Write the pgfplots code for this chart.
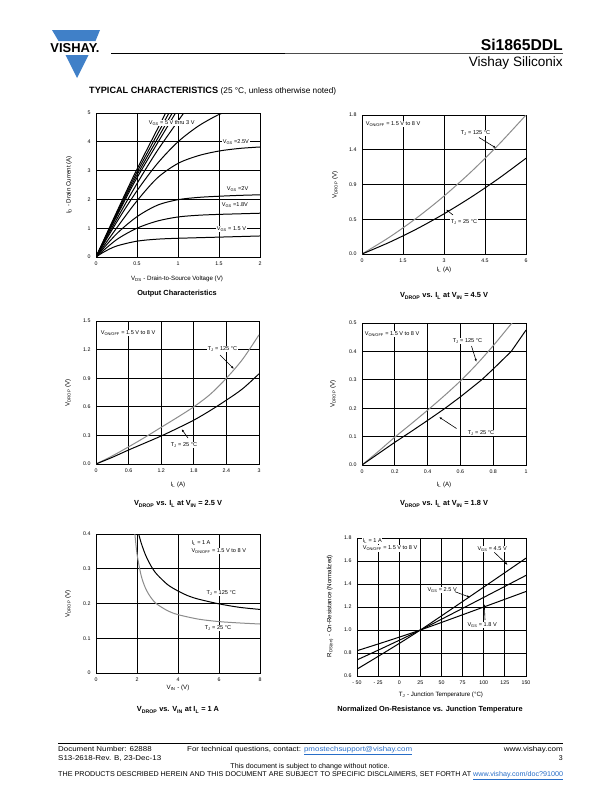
\documentclass[border=0pt]{standalone}
\usepackage{fontspec}
\setmainfont{Liberation Sans}
\usepackage{graphicx}
\usepackage{pgfplots}
\pgfplotsset{compat=1.18}
\usetikzlibrary{arrows.meta}
\definecolor{vblue}{RGB}{64,128,200}
\definecolor{lgray}{RGB}{140,140,140}
\definecolor{linkblue}{RGB}{40,110,200}
\newcommand{\tf}{\fontsize{5.3}{6}\selectfont}
\newcommand{\lf}{\fontsize{6.2}{7}\selectfont}
\newcommand{\af}{\fontsize{5.6}{6.5}\selectfont}
\newcommand{\ttl}{\fontsize{7.4}{8.5}\selectfont\bfseries}
\newcommand{\ff}{\fontsize{7}{8}\selectfont}
\pgfplotsset{
  ds/.style={scale only axis, anchor=south west, clip=true,
    axis line style={line width=1pt}, grid=major,
    major grid style={black,line width=0.8pt},
    tick style={draw=none}, ticklabel style={font=\tf},
    yticklabel style={xshift=-2bp}, xticklabel style={yshift=-1bp}},
  bk/.style={black, line width=1pt, smooth},
  gr/.style={lgray, line width=1pt, smooth},
}
\tikzset{ann/.style={font=\af, fill=white, inner sep=0.6bp, anchor=west},
  arr/.style={-{Latex[length=3bp,width=2.2bp]}, line width=0.6pt}}
\begin{document}
\begin{tikzpicture}
\fill[white] (0,0) rectangle (612bp,-792bp);
\path[use as bounding box] (0,0) rectangle (612bp,-792bp);
% ---------- header ----------
\fill[vblue] (52bp,-30bp) -- (100bp,-30bp) -- (95.5bp,-41bp) -- (58.5bp,-41bp) -- cycle;
\fill[vblue] (65.5bp,-55bp) -- (88.5bp,-55bp) -- (77bp,-78bp) -- cycle;
\node[inner sep=0] at (75bp,-48.5bp) {\resizebox{49bp}{!}{\bfseries VISHAY.}};
\draw[line width=1pt] (111bp,-53bp) -- (285bp,-53bp);
\draw[line width=0.8pt, black!70] (285bp,-53bp) -- (563bp,-53bp);
\node[anchor=base east, inner sep=0] at (563bp,-50bp) {\resizebox{82bp}{!}{\bfseries Si1865DDL}};
\node[anchor=base east, inner sep=0] at (563bp,-66bp) {\resizebox{94bp}{!}{Vishay Siliconix}};
\node[anchor=base west, inner sep=0] at (89bp,-93bp) {\resizebox{129bp}{!}{\bfseries TYPICAL CHARACTERISTICS}\hspace{2.5bp}\fontsize{8.3}{10}\selectfont(25 °C, unless otherwise noted)};
% ---------- plot 1: output characteristics ----------
\begin{axis}[ds, at={(96bp,-257bp)}, width=164bp, height=144bp,
  xmin=0, xmax=2, ymin=0, ymax=5,
  xtick={0,0.5,1,1.5,2}, xticklabels={0,0.5,1,1.5,2},
  ytick={0,1,2,3,4,5}, yticklabels={0,1,2,3,4,5}]
\addplot[bk] coordinates {(0,0)(0.25,1.55)(0.5,3.05)(0.85,5.0)};
\addplot[bk] coordinates {(0,0)(0.25,1.5)(0.5,2.95)(0.89,5.0)};
\addplot[bk] coordinates {(0,0)(0.25,1.45)(0.5,2.85)(0.93,5.0)};
\addplot[bk] coordinates {(0,0)(0.25,1.4)(0.5,2.75)(0.97,5.0)};
\addplot[bk] coordinates {(0,0)(0.25,1.3)(0.5,2.55)(0.75,3.7)(1.07,5.0)};
\addplot[bk] coordinates {(0,0)(0.25,1.2)(0.5,2.3)(0.75,3.25)(1,4.0)(1.25,4.55)(1.5,4.95)(1.58,5.0)};
\addplot[bk] coordinates {(0,0)(0.25,1.0)(0.5,1.95)(0.75,2.75)(1,3.25)(1.25,3.52)(1.5,3.68)(1.75,3.77)(2,3.82)};
\addplot[bk] coordinates {(0,0)(0.25,0.8)(0.5,1.4)(0.75,1.8)(1,1.99)(1.25,2.07)(1.5,2.11)(1.75,2.14)(2,2.16)};
\addplot[bk] coordinates {(0,0)(0.25,0.6)(0.5,1.0)(0.75,1.25)(1,1.39)(1.25,1.45)(1.5,1.48)(1.75,1.5)(2,1.52)};
\addplot[bk] coordinates {(0,0)(0.1,0.18)(0.25,0.38)(0.5,0.55)(0.75,0.62)(1,0.65)(1.5,0.69)(2,0.73)};
\end{axis}
\node[ann] at (148bp,-122.7bp) {V\textsubscript{GS} = 5 V thru 3 V};
\node[ann] at (222bp,-141.7bp) {V\textsubscript{GS} =2.5V};
\node[ann] at (226bp,-189.3bp) {V\textsubscript{GS} =2V};
\node[ann] at (221bp,-205.3bp) {V\textsubscript{GS} =1.8V};
\node[ann] at (216bp,-229.3bp) {V\textsubscript{GS} = 1.5 V};
\node[font=\lf] at (177bp,-279bp) {V\textsubscript{DS} - Drain-to-Source Voltage (V)};
\node[font=\lf, rotate=90] at (69bp,-185bp) {I\textsubscript{D} - Drain Current (A)};
\node[font=\ttl] at (177bp,-294bp) {Output Characteristics};
% ---------- plot 2: VDROP vs IL at VIN = 4.5 V ----------
\begin{axis}[ds, at={(362bp,-254bp)}, width=164bp, height=139bp,
  xmin=0, xmax=6, ymin=0, ymax=1.8,
  xtick={0,1.5,3,4.5,6}, xticklabels={0,1.5,3,4.5,6},
  ytick={0,0.45,0.9,1.35,1.8}, yticklabels={0.0,0.5,0.9,1.4,1.8}]
\addplot[gr] coordinates {(0,0)(1,0.217)(2,0.467)(3,0.75)(4,1.067)(5,1.417)(6,1.8)};
\addplot[bk] coordinates {(0,0)(1,0.151)(2,0.324)(3,0.52)(4,0.738)(5,0.978)(6,1.24)};
\end{axis}
\node[ann] at (365bp,-124bp) {V\textsubscript{ON/OFF} = 1.5 V to 8 V};
\node[ann] at (460bp,-133bp) {T\textsubscript{J} = 125 °C};
\draw[arr] (479bp,-137.5bp) -- (496bp,-148bp);
\node[ann] at (450bp,-222bp) {T\textsubscript{J} = 25 °C};
\draw[arr] (453bp,-215bp) -- (446bp,-209.5bp);
\node[font=\lf] at (444bp,-270bp) {I\textsubscript{L} (A)};
\node[font=\lf, rotate=90] at (335bp,-185bp) {V\textsubscript{DROP} (V)};
\node[font=\ttl] at (444bp,-296bp) {V\textsubscript{DROP} vs. I\textsubscript{L} at V\textsubscript{IN} = 4.5 V};
% ---------- plot 3: VDROP vs IL at VIN = 2.5 V ----------
\begin{axis}[ds, at={(96bp,-464bp)}, width=163bp, height=143bp,
  xmin=0, xmax=3, ymin=0, ymax=1.5,
  xtick={0,0.6,1.2,1.8,2.4,3}, xticklabels={0,0.6,1.2,1.8,2.4,3},
  ytick={0,0.3,0.6,0.9,1.2,1.5}, yticklabels={0.0,0.3,0.6,0.9,1.2,1.5}]
\addplot[gr] coordinates {(0,0)(0.3,0.085)(0.6,0.18)(0.9,0.28)(1.2,0.385)(1.5,0.49)(1.8,0.6)(2.1,0.73)(2.4,0.9)(2.7,1.1)(3,1.355)};
\addplot[bk] coordinates {(0,0)(0.3,0.07)(0.6,0.147)(0.9,0.22)(1.2,0.294)(1.5,0.375)(1.8,0.46)(2.1,0.56)(2.4,0.67)(2.7,0.79)(3,0.946)};
\end{axis}
\node[ann] at (100bp,-333bp) {V\textsubscript{ON/OFF} = 1.5 V to 8 V};
\node[ann] at (207bp,-349bp) {T\textsubscript{J} = 125 °C};
\draw[arr] (220bp,-355bp) -- (234bp,-369bp);
\node[ann] at (170bp,-445bp) {T\textsubscript{J} = 25 °C};
\draw[arr] (188bp,-438bp) -- (181.5bp,-429bp);
\node[font=\lf] at (178bp,-485bp) {I\textsubscript{L} (A)};
\node[font=\lf, rotate=90] at (68bp,-393bp) {V\textsubscript{DROP} (V)};
\node[font=\ttl] at (178bp,-504bp) {V\textsubscript{DROP} vs. I\textsubscript{L} at V\textsubscript{IN} = 2.5 V};
% ---------- plot 4: VDROP vs IL at VIN = 1.8 V ----------
\begin{axis}[ds, at={(362bp,-465bp)}, width=164bp, height=142bp,
  xmin=0, xmax=1, ymin=0, ymax=0.5,
  xtick={0,0.2,0.4,0.6,0.8,1}, xticklabels={0,0.2,0.4,0.6,0.8,1},
  ytick={0,0.1,0.2,0.3,0.4,0.5}, yticklabels={0.0,0.1,0.2,0.3,0.4,0.5}]
\addplot[gr] coordinates {(0,0)(0.1,0.048)(0.2,0.098)(0.3,0.145)(0.4,0.193)(0.5,0.243)(0.6,0.296)(0.7,0.355)(0.8,0.42)(0.9,0.49)(0.915,0.5)};
\addplot[black, line width=1pt] coordinates {(0,0)(0.1,0.04)(0.2,0.08)(0.3,0.118)(0.4,0.157)(0.5,0.197)(0.6,0.24)(0.73,0.3)(0.8,0.338)(0.91,0.4)(1,0.475)};
\end{axis}
\node[ann] at (364bp,-334bp) {V\textsubscript{ON/OFF} = 1.5 V to 8 V};
\node[ann] at (452bp,-341bp) {T\textsubscript{J} = 125 °C};
\draw[arr] (471.5bp,-346bp) -- (476.5bp,-362bp);
\node[ann] at (467bp,-433bp) {T\textsubscript{J} = 25 °C};
\draw[arr] (456.5bp,-428.5bp) -- (439bp,-417bp);
\node[font=\lf] at (444bp,-485bp) {I\textsubscript{L} (A)};
\node[font=\lf, rotate=90] at (333bp,-394bp) {V\textsubscript{DROP} (V)};
\node[font=\ttl] at (444bp,-504bp) {V\textsubscript{DROP} vs. I\textsubscript{L} at V\textsubscript{IN} = 1.8 V};
% ---------- plot 5: VDROP vs VIN ----------
\begin{axis}[ds, at={(96bp,-673bp)}, width=164bp, height=139bp,
  xmin=0, xmax=8, ymin=0, ymax=0.4,
  xtick={0,2,4,6,8}, xticklabels={0,2,4,6,8},
  ytick={0,0.1,0.2,0.3,0.4}, yticklabels={0,0.1,0.2,0.3,0.4}]
\addplot[gr] coordinates {(1.89,0.405)(2,0.343)(2.2,0.281)(2.4,0.246)(2.6,0.224)(2.8,0.208)(3,0.197)(3.5,0.179)(4,0.168)(5,0.155)(6,0.148)(7,0.144)(8,0.141)};
\addplot[bk] coordinates {(2.07,0.403)(2.2,0.375)(2.4,0.342)(2.6,0.317)(2.8,0.297)(3,0.282)(3.5,0.254)(4,0.236)(4.5,0.222)(5,0.2125)(6,0.199)(7,0.189)(8,0.183)};
\end{axis}
\node[ann] at (190.7bp,-542.7bp) {I\textsubscript{L} = 1 A};
\node[ann] at (190.7bp,-550.7bp) {V\textsubscript{ON/OFF} = 1.5 V to 8 V};
\node[ann] at (205.7bp,-592.7bp) {T\textsubscript{J} = 125 °C};
\node[ann] at (204bp,-627.7bp) {T\textsubscript{J} = 25 °C};
\node[font=\lf] at (178bp,-688bp) {V\textsubscript{IN} - (V)};
\node[font=\lf, rotate=90] at (68bp,-604bp) {V\textsubscript{DROP} (V)};
\node[font=\ttl] at (178bp,-710bp) {V\textsubscript{DROP} vs. V\textsubscript{IN} at I\textsubscript{L} = 1 A};
% ---------- plot 6: normalized on-resistance ----------
\begin{axis}[ds, at={(357bp,-676bp)}, width=169bp, height=138bp,
  xmin=-50, xmax=150, ymin=0.6, ymax=1.8,
  xtick={-50,-25,0,25,50,75,100,125,150}, xticklabels={- 50,- 25,0,25,50,75,100,125,150},
  ytick={0.6,0.8,1.0,1.2,1.4,1.6,1.8}, yticklabels={0.6,0.8,1.0,1.2,1.4,1.6,1.8}]
\addplot[bk] coordinates {(-50,0.66)(25,1.0)(150,1.625)};
\addplot[bk] coordinates {(-50,0.74)(25,1.0)(150,1.475)};
\addplot[bk] coordinates {(-50,0.82)(25,1.0)(150,1.335)};
\end{axis}
\node[ann] at (362bp,-541bp) {I\textsubscript{L} = 1 A};
\node[ann] at (362bp,-548.5bp) {V\textsubscript{ON/OFF} = 1.5 V to 8 V};
\node[ann] at (476.7bp,-549bp) {V\textsubscript{GS} = 4.5 V};
\draw[arr] (494.3bp,-552.3bp) -- (507.7bp,-565bp);
\node[ann] at (426.7bp,-590bp) {V\textsubscript{GS} = 2.5 V};
\draw[arr] (455bp,-591.7bp) -- (470bp,-597.3bp);
\node[ann] at (466.7bp,-625bp) {V\textsubscript{GS} = 1.8 V};
\draw[arr] (485bp,-620bp) -- (484.3bp,-604bp);
\node[font=\lf] at (441bp,-695bp) {T\textsubscript{J} - Junction Temperature (°C)};
\node[font=\lf, rotate=90] at (330bp,-606bp) {R\textsubscript{DS(on)} - On-Resistance (Normalized)};
\node[font=\ttl] at (430bp,-710bp) {Normalized On-Resistance vs. Junction Temperature};
% ---------- footer ----------
\draw[line width=0.8pt] (58bp,-743bp) -- (563bp,-743bp);
\node[anchor=base west, inner sep=0, font=\ff] at (58bp,-751.5bp) {\resizebox{93.5bp}{\height}{Document Number: 62888}};
\node[anchor=base west, inner sep=0, font=\ff] at (58bp,-760.5bp) {\resizebox{103bp}{\height}{S13-2618-Rev. B, 23-Dec-13}};
\node[anchor=base west, inner sep=0, font=\ff] at (187bp,-751.5bp) {\resizebox{225bp}{\height}{For technical questions, contact: \textcolor{linkblue}{\underline{pmostechsupport@vishay.com}}}};
\node[anchor=base east, inner sep=0, font=\ff] at (563bp,-751.5bp) {\resizebox{59bp}{\height}{www.vishay.com}};
\node[anchor=base east, inner sep=0, font=\ff] at (563bp,-760.5bp) {3};
\node[anchor=base, inner sep=0, font=\ff] at (310bp,-768.5bp) {\resizebox{159bp}{\height}{This document is subject to change without notice.}};
\node[anchor=base west, inner sep=0, font=\ff] at (58bp,-776.5bp) {\resizebox{505bp}{\height}{THE PRODUCTS DESCRIBED HEREIN AND THIS DOCUMENT ARE SUBJECT TO SPECIFIC DISCLAIMERS, SET FORTH AT \textcolor{linkblue}{\underline{www.vishay.com/doc?91000}}}};
\end{tikzpicture}
\end{document}
